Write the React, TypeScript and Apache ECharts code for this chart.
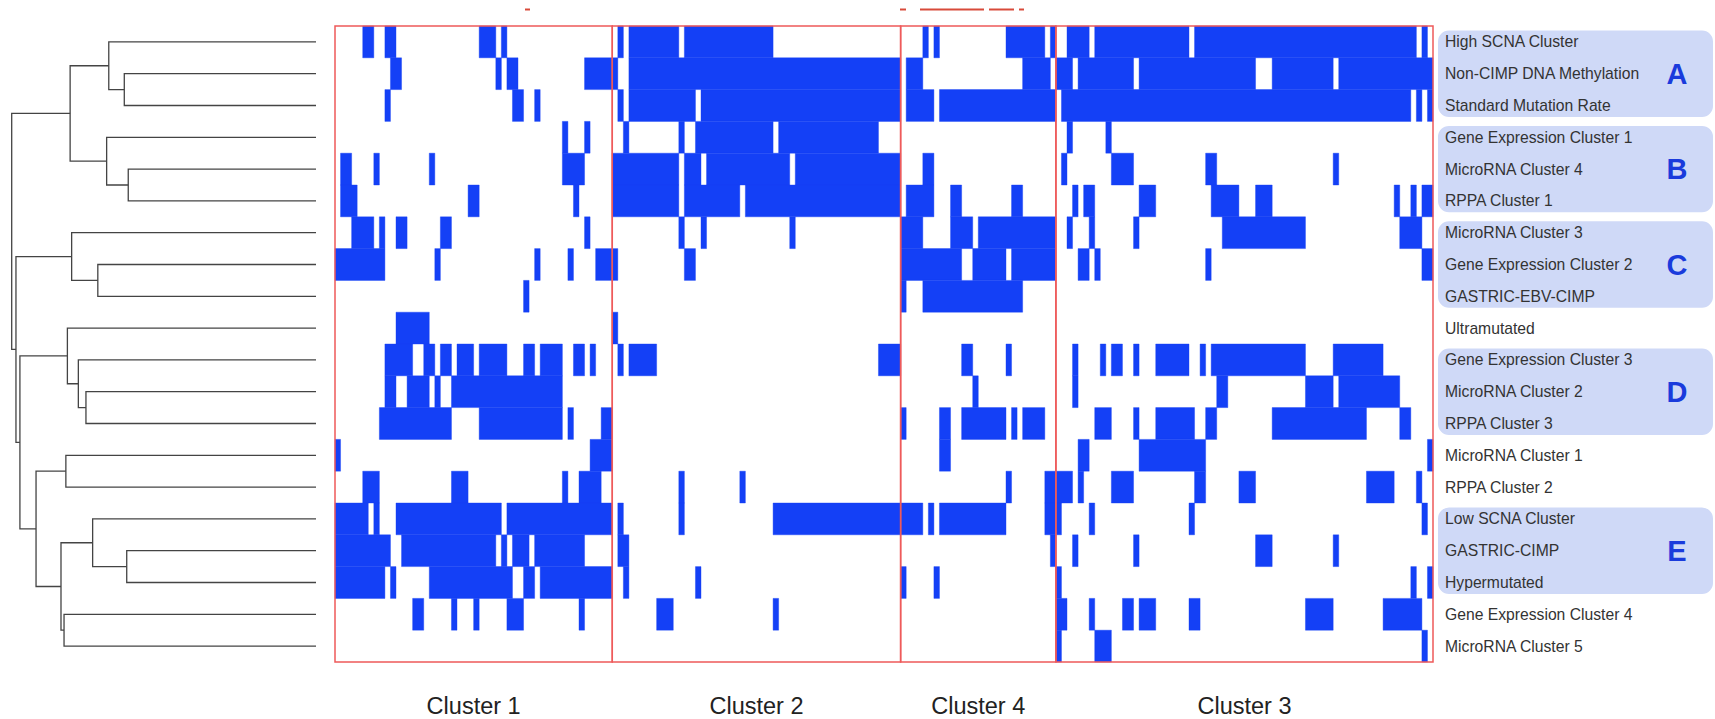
import React, { useEffect, useRef } from 'react';
import * as echarts from 'echarts';

// ---------- data ----------
const rowNames = [
  'High SCNA Cluster', 'Non-CIMP DNA Methylation', 'Standard Mutation Rate',
  'Gene Expression Cluster 1', 'MicroRNA Cluster 4', 'RPPA Cluster 1',
  'MicroRNA Cluster 3', 'Gene Expression Cluster 2', 'GASTRIC-EBV-CIMP',
  'Ultramutated', 'Gene Expression Cluster 3', 'MicroRNA Cluster 2',
  'RPPA Cluster 3', 'MicroRNA Cluster 1', 'RPPA Cluster 2',
  'Low SCNA Cluster', 'GASTRIC-CIMP', 'Hypermutated',
  'Gene Expression Cluster 4', 'MicroRNA Cluster 5',
];

const sampleCount = 198;

// membership runs per row: [firstSample, endSample) in sample order
const highSCNA = [[5,7],[9,11],[26,29],[30,31],[51,52],[53,62],[63,79],[106,107],[108,109],[121,128],[129,130],[132,136],[137,154],[155,195],[196,197]];
const nonCIMP = [[10,12],[29,30],[31,33],[45,51],[53,102],[103,106],[124,129],[130,133],[134,144],[145,166],[169,180],[181,198]];
const standardMut = [[9,10],[32,34],[36,37],[51,52],[53,65],[66,102],[103,108],[109,130],[131,194],[195,196],[197,198]];
const geneExpr1 = [[41,42],[45,46],[52,53],[62,63],[65,79],[80,98],[132,133],[139,140]];
const microRNA4 = [[1,3],[7,8],[17,18],[41,45],[50,62],[63,66],[67,82],[83,102],[106,108],[131,132],[140,144],[157,159],[180,181]];
const rppa1 = [[1,4],[24,26],[43,44],[50,62],[63,73],[74,102],[103,108],[111,113],[122,124],[133,134],[135,137],[145,148],[158,163],[166,169],[191,192],[194,195],[196,198]];
const microRNA3 = [[3,7],[8,9],[11,13],[19,21],[45,46],[62,63],[66,67],[82,83],[102,106],[111,115],[116,130],[132,133],[136,137],[144,145],[160,175],[192,196]];
const geneExpr2 = [[0,9],[18,19],[36,37],[42,43],[47,51],[63,65],[102,113],[115,121],[122,130],[134,136],[137,138],[157,158],[196,198]];
const ebvCIMP = [[34,35],[102,103],[106,124]];
const ultramutated = [[11,17],[50,51]];
const geneExpr3 = [[9,14],[16,18],[19,21],[22,25],[26,31],[34,36],[37,41],[43,45],[46,47],[51,52],[53,58],[98,102],[113,115],[121,122],[133,134],[138,139],[140,142],[144,145],[148,154],[156,157],[158,175],[180,189]];
const microRNA2 = [[9,11],[13,17],[18,19],[21,41],[115,116],[133,134],[159,161],[175,180],[181,192]];
const rppa3 = [[8,21],[26,41],[42,43],[48,50],[102,103],[109,111],[113,121],[122,123],[124,128],[137,140],[144,145],[148,155],[157,159],[169,186],[192,194]];
const microRNA1 = [[0,1],[46,50],[109,111],[134,136],[145,157],[197,198]];
const rppa2 = [[5,8],[21,24],[41,42],[44,48],[62,63],[73,74],[121,122],[128,133],[134,135],[140,144],[155,157],[163,166],[186,191],[195,196]];
const lowSCNA = [[0,6],[7,8],[11,30],[31,50],[51,52],[62,63],[79,106],[107,108],[109,121],[128,131],[136,137],[154,155],[196,197]];
const gastricCIMP = [[0,10],[12,29],[30,31],[32,35],[36,45],[51,53],[129,130],[133,134],[144,145],[166,169],[180,181]];
const hypermutated = [[0,9],[10,11],[17,32],[34,36],[37,50],[52,53],[65,66],[102,103],[108,109],[130,131],[194,195],[197,198]];
const geneExpr4 = [[14,16],[21,22],[25,26],[31,34],[44,45],[58,61],[79,80],[130,132],[136,137],[142,144],[145,148],[154,156],[175,180],[189,196]];
const microRNA5 = [[130,131],[137,140],[196,197]];

const rowRuns = [
  highSCNA, nonCIMP, standardMut, geneExpr1, microRNA4, rppa1, microRNA3, geneExpr2,
  ebvCIMP, ultramutated, geneExpr3, microRNA2, rppa3, microRNA1, rppa2, lowSCNA,
  gastricCIMP, hypermutated, geneExpr4, microRNA5,
];

const clusterNames = ['Cluster 1', 'Cluster 2', 'Cluster 4', 'Cluster 3'];
const clusterBounds = [[0, 50], [50, 102], [102, 130], [130, 198]];

const groupLetters = ['A', 'B', 'C', 'D', 'E'];
const groupRows = [[0, 2], [3, 5], [6, 8], [10, 12], [15, 17]];

// dendrogram merges: [childA, childB, height]; ids >= 20 refer to earlier merges
const dendroMerges = [
  [1, 2, 0.630], [0, 20, 0.681], [4, 5, 0.617], [3, 22, 0.688], [21, 23, 0.808],
  [7, 8, 0.717], [6, 25, 0.803], [11, 12, 0.756], [10, 27, 0.781], [9, 28, 0.817],
  [13, 14, 0.822], [16, 17, 0.622], [15, 31, 0.734], [18, 19, 0.828], [32, 33, 0.838],
  [30, 34, 0.920], [29, 35, 0.973], [26, 36, 0.986], [24, 37, 1.0],
];

// ---------- styles ----------
const BLUE = '#1440f6';
const RED = '#ee5a5a';
const BOX = '#cfd9f7';
const FONT = 'Liberation Sans, Arial, sans-serif';

export default function App() {
  const ref = useRef<HTMLDivElement>(null);

  useEffect(() => {
    if (!ref.current) return;
    const chart = echarts.init(ref.current, null, { renderer: 'svg' });

    const heatData: number[][] = [];
    rowRuns.forEach((runs, r) => runs.forEach(([s, e]) => heatData.push([s, e, r])));

    const nodes: { h: number; y: number }[] = rowNames.map((_, i) => ({ h: 0, y: i }));
    const dendroData: number[][] = [];
    dendroMerges.forEach(([a, b, h]) => {
      const na = nodes[a], nb = nodes[b];
      dendroData.push([na.h, na.y, h, nb.y, nb.h]);
      nodes.push({ h, y: (na.y + nb.y) / 2 });
    });

    const clusterData = clusterBounds.map(([s, e], i) => [s, e, 0, i]);
    const groupData = groupRows.map(([a, b], i) => [sampleCount, a, b, i]);

    chart.setOption({
      animation: false,
      backgroundColor: '#ffffff',
      grid: [
        { left: 335, top: 26, width: 1098, height: 636 },
        { left: 11.7, top: 26, width: 304.3, height: 636 },
      ],
      xAxis: [
        { type: 'value', gridIndex: 0, min: 0, max: sampleCount, show: false },
        { type: 'value', gridIndex: 1, min: 0, max: 1, inverse: true, show: false },
      ],
      yAxis: [
        {
          type: 'category', gridIndex: 0, data: rowNames, inverse: true, position: 'right',
          axisLine: { show: false }, axisTick: { show: false }, splitLine: { show: false },
          axisLabel: { margin: 12, fontSize: 15.7, color: '#333', fontFamily: FONT, align: 'left' },
        },
        { type: 'value', gridIndex: 1, min: -0.5, max: 19.5, inverse: true, show: false },
      ],
      graphic: [
        { type: 'rect', shape: { x: 525, y: 8.5, width: 5, height: 2 }, style: { fill: '#d84a3a' } },
        { type: 'rect', shape: { x: 900, y: 8.5, width: 6, height: 2 }, style: { fill: '#d84a3a' } },
        { type: 'rect', shape: { x: 920, y: 8.5, width: 64, height: 2 }, style: { fill: '#d84a3a' } },
        { type: 'rect', shape: { x: 989, y: 8.5, width: 25, height: 2 }, style: { fill: '#d84a3a' } },
        { type: 'rect', shape: { x: 1019, y: 8.5, width: 5, height: 2 }, style: { fill: '#d84a3a' } },
      ],
      series: [
        {
          type: 'custom', name: 'groups', xAxisIndex: 0, yAxisIndex: 0, z: -1,
          data: groupData, encode: { x: 0, y: [1, 2] }, clip: false, silent: true,
          renderItem: (params: any, api: any) => {
            const h = api.size([0, 1])[1];
            const pTop = api.coord([api.value(0), api.value(1)]);
            const pBot = api.coord([api.value(0), api.value(2)]);
            const inset = 4.5;
            const x0 = pTop[0] + 5;
            const x1 = api.getWidth() - 2;
            const y0 = pTop[1] - h / 2 + inset;
            const y1 = pBot[1] + h / 2 - inset;
            return {
              type: 'group',
              children: [
                { type: 'rect', shape: { x: x0, y: y0, width: x1 - x0, height: y1 - y0, r: 11 }, style: { fill: BOX } },
                {
                  type: 'text', x: api.getWidth() - 38, y: (y0 + y1) / 2,
                  style: {
                    text: groupLetters[api.value(3)], fill: '#1a3bdc', font: `bold 29px ${FONT}`,
                    align: 'center', verticalAlign: 'middle',
                  },
                },
              ],
            };
          },
        },
        {
          type: 'custom', name: 'membership', xAxisIndex: 0, yAxisIndex: 0,
          data: heatData, encode: { x: [0, 1], y: 2 }, silent: true,
          renderItem: (params: any, api: any) => {
            const r = api.value(2);
            const p0 = api.coord([api.value(0), r]);
            const p1 = api.coord([api.value(1), r]);
            const h = api.size([0, 1])[1];
            return {
              type: 'rect',
              shape: { x: p0[0], y: p0[1] - h / 2, width: p1[0] - p0[0], height: h },
              style: { fill: BLUE, stroke: BLUE, lineWidth: 0.4 },
            };
          },
        },
        {
          type: 'custom', name: 'clusters', xAxisIndex: 0, yAxisIndex: 0, z: 5,
          data: clusterData, encode: { x: [0, 1], y: 2 }, clip: false, silent: true,
          renderItem: (params: any, api: any) => {
            const h = api.size([0, 1])[1];
            const pa = api.coord([api.value(0), 0]);
            const pb = api.coord([api.value(1), rowNames.length - 1]);
            const top = pa[1] - h / 2;
            const bottom = pb[1] + h / 2;
            return {
              type: 'group',
              children: [
                {
                  type: 'rect', shape: { x: pa[0], y: top, width: pb[0] - pa[0], height: bottom - top },
                  style: { fill: 'none', stroke: RED, lineWidth: 1.5 },
                },
                {
                  type: 'text', x: (pa[0] + pb[0]) / 2, y: bottom + 44,
                  style: {
                    text: clusterNames[api.value(3)], fill: '#222', font: `23.5px ${FONT}`,
                    align: 'center', verticalAlign: 'middle',
                  },
                },
              ],
            };
          },
        },
        {
          type: 'custom', name: 'dendrogram', xAxisIndex: 1, yAxisIndex: 1,
          data: dendroData, encode: { x: [0, 2, 4], y: [1, 3] }, silent: true,
          renderItem: (params: any, api: any) => {
            const pA = api.coord([api.value(0), api.value(1)]);
            const pN1 = api.coord([api.value(2), api.value(1)]);
            const pN2 = api.coord([api.value(2), api.value(3)]);
            const pB = api.coord([api.value(4), api.value(3)]);
            return {
              type: 'polyline',
              shape: { points: [pA, pN1, pN2, pB] },
              style: { stroke: '#444', lineWidth: 1.3, fill: null },
            };
          },
        },
      ],
    });

    return () => chart.dispose();
  }, []);

  return (
    <div
      ref={ref}
      style={{ position: 'fixed', left: 0, top: 0, width: 1715, height: 719, background: '#fff' }}
    />
  );
}
